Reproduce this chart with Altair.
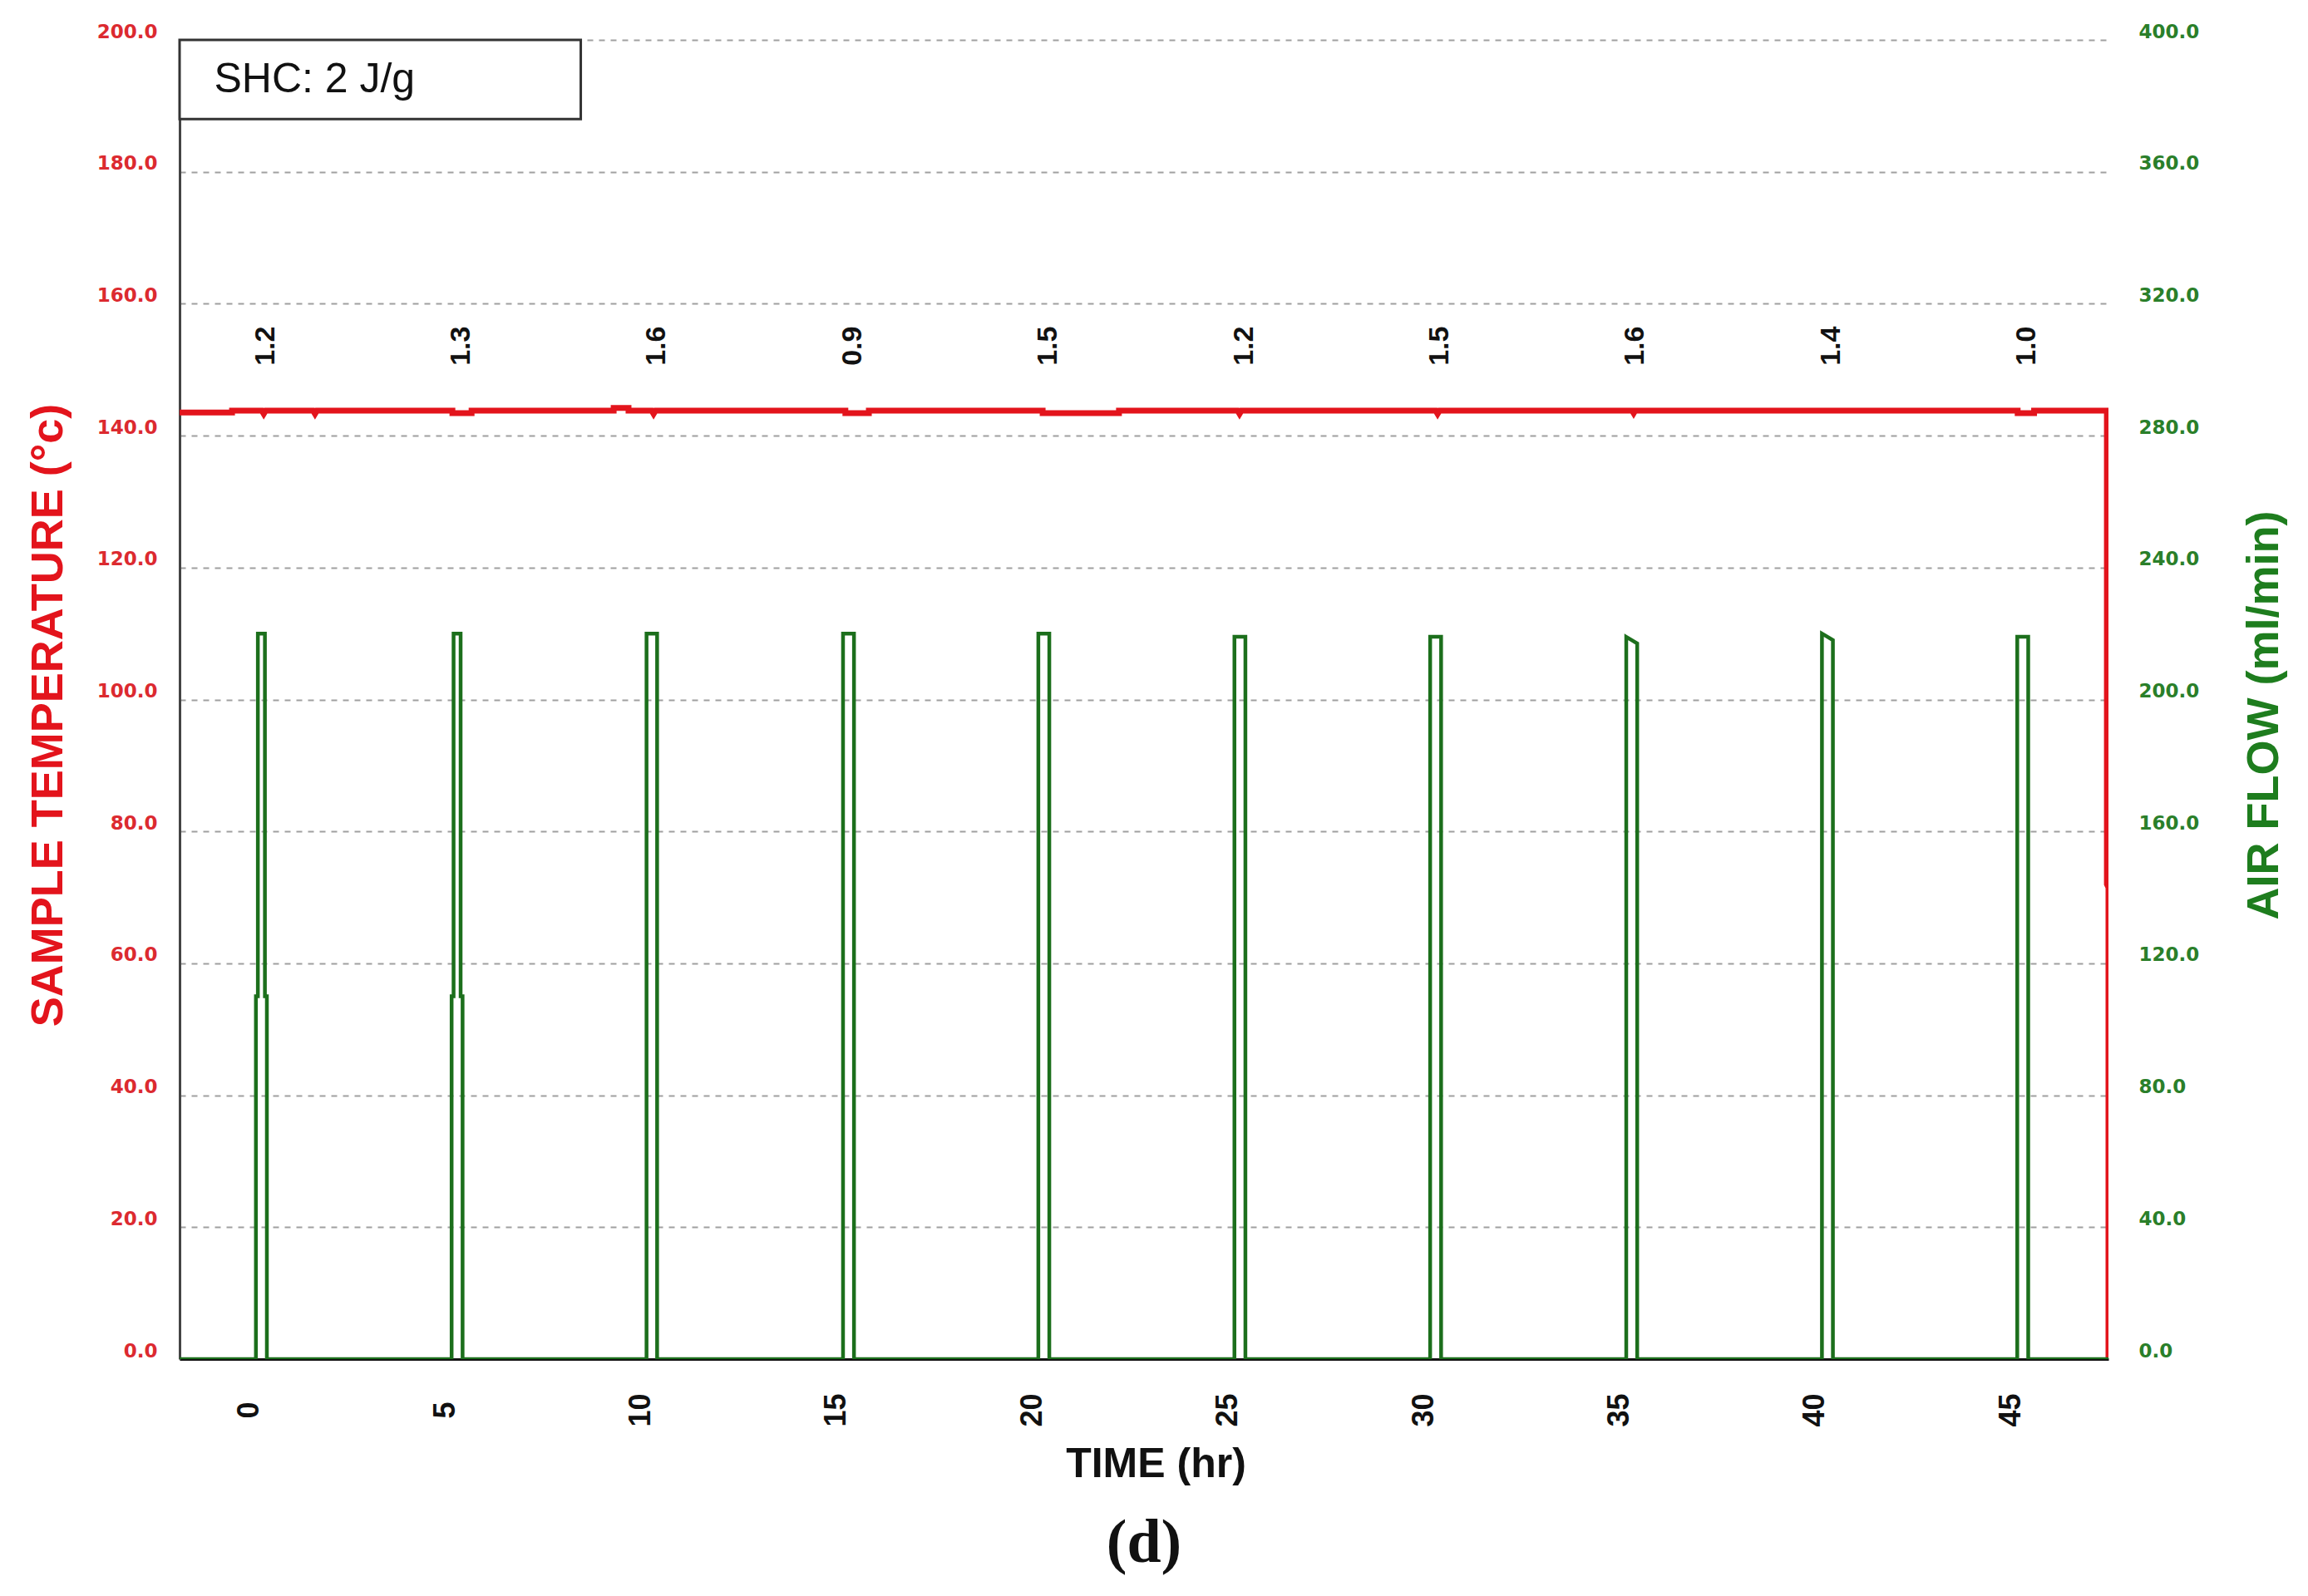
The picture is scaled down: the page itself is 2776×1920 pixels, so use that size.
import altair as alt
import pandas as pd

# ---------------- data ----------------
# Sample temperature trace (hr, deg C)
temp_t = [-1.78, -0.44, -0.44, 0.32, 0.37, 0.42, 1.63, 1.68, 1.73, 5.19, 5.19, 5.68, 5.68,
          9.31, 9.31, 9.69, 9.69, 10.28, 10.33, 10.38, 15.23, 15.23, 15.83, 15.83,
          20.27, 20.27, 22.22, 22.22, 25.25, 25.30, 25.35, 30.31, 30.36, 30.41,
          35.33, 35.37, 35.41, 45.18, 45.18, 45.60, 45.60, 47.46, 47.46, 47.5, 47.5]
temp_v = [143.5, 143.5, 143.8, 143.8, 143.3, 143.8, 143.8, 143.3, 143.8, 143.8, 143.4, 143.4, 143.8,
          143.8, 144.2, 144.2, 143.8, 143.8, 143.3, 143.8, 143.8, 143.4, 143.4, 143.8,
          143.8, 143.4, 143.4, 143.8, 143.8, 143.3, 143.8, 143.8, 143.3, 143.8,
          143.8, 143.4, 143.8, 143.8, 143.4, 143.4, 143.8, 143.8, 72.0, 71.5, 0.0]

# Air-flow pulses (hr, ml/min)
pulse_start = [0.17, 5.17, 10.15, 15.17, 20.16, 25.17, 30.17, 35.18, 40.18, 45.17]
pulse_end = [0.45, 5.45, 10.42, 15.45, 20.44, 25.45, 30.45, 35.46, 40.46, 45.45]
pulse_peak_left = [220, 220, 220, 220, 220, 219, 219, 219, 220, 219]
pulse_peak_right = [220, 220, 220, 220, 220, 219, 219, 217, 218, 219]
pulse_shoulder = [110, 110, 0, 0, 0, 0, 0, 0, 0, 0]
flow_t_start, flow_t_end = -1.78, 47.5

# Heat released labels above each pulse
label_t = [0.42, 5.42, 10.42, 15.42, 20.42, 25.42, 30.42, 35.42, 40.42, 45.42]
label_v = [153.6] * 10
label_text = ["1.2", "1.3", "1.6", "0.9", "1.5", "1.2", "1.5", "1.6", "1.4", "1.0"]

# Annotation box
box_t, box_t2, box_v, box_v2 = [-1.78], [8.47], [188.0], [200.0]
box_text_t, box_text_v, box_text = [-0.9], [194.0], ["SHC: 2 J/g"]

x_ticks = [0, 5, 10, 15, 20, 25, 30, 35, 40, 45]
temp_ticks = list(range(0, 201, 20))
flow_ticks = list(range(0, 401, 40))

# ---------------- build tables ----------------
temp_df = pd.DataFrame({"t": temp_t, "v": temp_v, "i": range(len(temp_t))})

rows = [(flow_t_start, 0)]
d = 0.05
for s, e, pl, pr, sh in zip(pulse_start, pulse_end, pulse_peak_left, pulse_peak_right, pulse_shoulder):
    if sh > 0:
        rows += [(s, 0), (s, sh), (s + d, sh), (s + d, pl), (e - d, pr), (e - d, sh), (e, sh), (e, 0)]
    else:
        rows += [(s, 0), (s, pl), (e, pr), (e, 0)]
rows.append((flow_t_end, 0))
flow_df = pd.DataFrame(rows, columns=["t", "f"])
flow_df["i"] = range(len(flow_df))

lab_df = pd.DataFrame({"t": label_t, "v": label_v, "txt": label_text})
box_df = pd.DataFrame({"t": box_t, "t2": box_t2, "v": box_v, "v2": box_v2})
boxtxt_df = pd.DataFrame({"t": box_text_t, "v": box_text_v, "txt": box_text})

RED = "#e3141c"
RED_LAB = "#dc2a30"
GREEN = "#1c6f1c"
GREEN_LAB = "#2a7f2a"

x_enc = alt.X(
    "t:Q",
    scale=alt.Scale(domain=[-1.78, 47.5], nice=False, zero=False),
    axis=alt.Axis(
        values=x_ticks, format="d", labelAngle=270, labelAlign="center", labelBaseline="middle",
        labelPadding=61, ticks=False, grid=False, domain=True, domainColor="#111111", domainWidth=3,
        labelFont="Liberation Sans", labelFontWeight="bold", labelFontSize=36, labelColor="#111111",
        title="TIME (hr)", titleFont="Liberation Sans", titleFontWeight="bold", titleFontSize=50,
        titleColor="#111111", titleX=1174, titleY=126, titleBaseline="middle", titleAlign="center",
        titleAnchor="start", labelOverlap=False, labelFlush=False,
    ),
)

y_temp = alt.Y(
    "v:Q",
    scale=alt.Scale(domain=[0, 200], nice=False, zero=False),
    axis=alt.Axis(
        values=temp_ticks, format=".1f", ticks=False, labelPadding=27, labelOffset=-10,
        labelFont="DejaVu Sans", labelFontWeight="bold", labelFontSize=23, labelColor=RED_LAB,
        domain=True, domainColor="#444444", domainWidth=3,
        grid=True, gridColor="#a0a0a0", gridDash=[7, 7], gridWidth=2,
        title="SAMPLE TEMPERATURE (°c)", titleFont="Liberation Sans", titleFontWeight="bold",
        titleFontSize=54, titleColor=RED, titleAngle=270, titleX=-158, titleY=812,
        titleBaseline="middle", titleAlign="center", titleAnchor="start", labelOverlap=False,
    ),
)

temp_line = alt.Chart(temp_df).mark_line(color=RED, strokeWidth=7, clip=True).encode(
    x=x_enc, y=y_temp, order=alt.Order("i:Q")
)

box = alt.Chart(box_df).mark_rect(fill="white", stroke="#333333", strokeWidth=3).encode(
    x=x_enc, x2="t2:Q", y=y_temp, y2="v2:Q"
)
box_txt = alt.Chart(boxtxt_df).mark_text(
    align="left", baseline="middle", font="Liberation Sans", fontSize=50, color="#111111"
).encode(x=x_enc, y=y_temp, text="txt:N")

labels = alt.Chart(lab_df).mark_text(
    angle=270, align="center", baseline="middle", font="Liberation Sans", fontSize=34,
    fontWeight="bold", color="#111111"
).encode(x=x_enc, y=y_temp, text="txt:N")

temp_layer = alt.layer(temp_line, box, box_txt, labels)

flow_line = alt.Chart(flow_df).mark_line(color=GREEN, strokeWidth=4.5, clip=True).encode(
    x=x_enc,
    y=alt.Y(
        "f:Q",
        scale=alt.Scale(domain=[0, 400], nice=False, zero=False),
        axis=alt.Axis(
            orient="right", values=flow_ticks, format=".1f", ticks=False, labelPadding=36,
            labelOffset=-10, labelAlign="left",
            labelFont="DejaVu Sans", labelFontWeight="bold", labelFontSize=23, labelColor=GREEN_LAB,
            domain=False, grid=False,
            title="AIR FLOW (ml/min)", titleFont="Liberation Sans", titleFontWeight="bold",
            titleFontSize=54, titleColor="#1e7d1e", titleAngle=270, titleX=187, titleY=812,
            titleBaseline="middle", titleAlign="center", titleAnchor="start", labelOverlap=False,
        ),
    ),
    order=alt.Order("i:Q"),
)

chart = (
    alt.layer(temp_layer, flow_line)
    .resolve_scale(y="independent")
    .properties(
        width=2320,
        height=1587,
        autosize=alt.AutoSizeParams(type="none"),
        padding={"left": 208, "top": 40, "right": 230, "bottom": 285},
        view=alt.ViewBackground(stroke="transparent", strokeWidth=0, fill="white"),
        title=alt.TitleParams(
            text="(d)", orient="bottom", anchor="middle", frame="group",
            font="Liberation Serif", fontSize=74, fontWeight="bold", color="#111111", offset=35,
        ),
    )
    .configure_view(strokeWidth=0, stroke="transparent")
    .configure_axis(gridCap="butt")
    .configure(background="white")
)

chart.save("out.html", embed_options={"renderer": "svg", "actions": False})
